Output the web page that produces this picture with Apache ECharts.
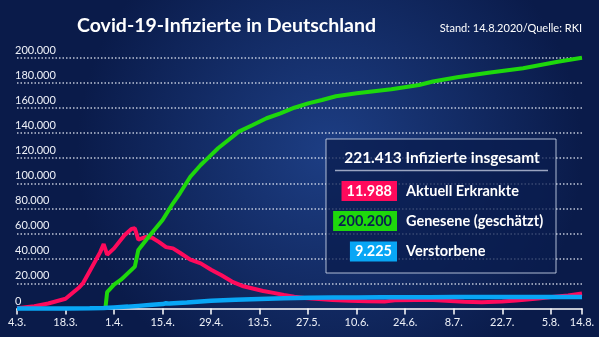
<!DOCTYPE html>
<html><head><meta charset="utf-8">
<script src="https://cdn.jsdelivr.net/npm/echarts@6/dist/echarts.min.js"></script>
<style>html,body{margin:0;padding:0;background:#0b1e50}#c{width:599px;height:337px}</style>
</head><body><div id="c"></div>
<script>
// x positions are day offsets from 4.3.2020
const xTickDays = [0,14,28,42,56,70,84,98,112,126,140,154,163];
const xTickLabels = ['4.3.','18.3.','1.4.','15.4.','29.4.','13.5.','27.5.','10.6.','24.6.','8.7.','22.7.','5.8.','14.8.'];
const yTicks = [0,20000,40000,60000,80000,100000,120000,140000,160000,180000,200000];

const activeCases = [[0,200],[5,1800],[9,4000],[14,7800],[18,17000],[19,20000],[21,30000],[24,45000],[25,51500],[26,43000],[28,48000],[31,58500],[33,63500],[34,64000],[35,55000],[37,57000],[39,56500],[41,53000],[43,49000],[45,48000],[47,44500],[50,39000],[53,36000],[56,31000],[59,26500],[62,21500],[65,18000],[68,16000],[71,14000],[74,12500],[77,10800],[80,9400],[83,8300],[87,7500],[91,6800],[96,6200],[101,5800],[106,5500],[109,6600],[115,6800],[120,6700],[125,6000],[129,5400],[134,5000],[140,5600],[144,6300],[148,7300],[151,8200],[155,9300],[159,10300],[163,11988]];
const recovered = [[25.5,0],[26,13000],[28,19000],[30,23000],[34,33400],[35,46700],[38,57300],[42,70700],[45,84000],[47,92000],[50,105200],[53,114600],[55,119900],[58,127900],[61,134500],[64,141200],[68,146500],[72,151900],[76,155800],[80,160300],[84,163800],[88,166500],[92,169500],[98,171800],[108,175000],[116,178400],[120,181200],[127,184600],[136,188300],[146,191800],[156,197000],[163,200200]];
const deaths = [[0,0],[7,10],[14,30],[21,150],[25,400],[28,900],[32,1500],[35,2100],[39,2900],[42,3500],[43,4200],[44,3900],[49,4800],[56,6100],[63,7000],[70,7600],[77,8100],[84,8500],[91,8700],[98,8800],[105,8900],[112,9000],[119,9050],[126,9100],[133,9140],[140,9160],[147,9180],[154,9200],[163,9225]];

const titleText = 'Covid-19-Infizierte in Deutschland';
const sourceText = 'Stand: 14.8.2020/Quelle: RKI';
const legendTotal = '221.413 Infizierte insgesamt';
const legendValues = ['11.988','200.200','9.225'];
const legendLabels = ['Aktuell Erkrankte','Genesene (geschätzt)','Verstorbene'];

const RED = '#ff0a5c', GREEN = '#1ed80c', BLUE = '#08a6f5';
const FONT = 'Lato, "Open Sans", sans-serif';

const chart = echarts.init(document.getElementById('c'), null, {renderer:'canvas'});
const fmtDe = v => v === 0 ? '0' : (v/1000) + '.000';

const rowY = [191, 221, 251.5];
const boxColors = [RED, GREEN, BLUE];
const boxText = ['#ffffff', '#0a1e50', '#ffffff'];
const legendGraphics = [
  {type:'rect', shape:{x:326, y:139, width:230, height:134}, style:{fill:'rgba(10,28,78,0.75)', stroke:'rgba(205,215,235,0.85)', lineWidth:1}, z:10},
  {type:'text', style:{text:legendTotal, x:442, y:157.5, align:'center', verticalAlign:'middle', fill:'#fff', font:'bold 15.5px '+FONT}, z:11},
  {type:'line', shape:{x1:335, y1:170.5, x2:548, y2:170.5}, style:{stroke:'rgba(170,180,205,0.9)', lineWidth:1.5}, z:11}
];
legendValues.forEach((v,i)=>{
  legendGraphics.push({type:'text', style:{text:v, x:397, y:rowY[i], align:'right', verticalAlign:'middle', fill:boxText[i], font:'bold 14.5px '+FONT, backgroundColor:boxColors[i], padding:[3,5,2,5]}, z:11});
  legendGraphics.push({type:'text', style:{text:legendLabels[i], x:406, y:rowY[i], align:'left', verticalAlign:'middle', fill:'#fff', font:'bold 14.5px '+FONT}, z:11});
});

chart.setOption({
  backgroundColor: new echarts.graphic.RadialGradient(0.55, 0.45, 0.75, [
    {offset:0, color:'#1d3e84'}, {offset:1, color:'#0a1b4a'}
  ]),
  animation:false,
  grid:{left:17, right:17, top:58, bottom:28.5, outerBoundsMode:'none', containLabel:false},
  xAxis:{
    type:'value', min:0, max:163,
    axisLine:{show:true, lineStyle:{color:'#ffffff', width:1.5}},
    axisTick:{show:true, customValues:xTickDays, length:6, lineStyle:{color:'#ffffff', width:1.5}},
    axisLabel:{customValues:xTickDays, margin:8, color:'#eef1f8', fontSize:11, fontFamily:FONT,
      formatter: v => { const i = xTickDays.indexOf(v); return i >= 0 ? xTickLabels[i] : ''; }},
    splitLine:{show:false}
  },
  yAxis:{
    type:'value', min:0, max:200000, interval:20000,
    axisLine:{show:false}, axisTick:{show:false},
    axisLabel:{inside:true, margin:-2, color:'#eef1f8', fontSize:11, fontFamily:FONT, verticalAlign:'bottom', padding:[0,0,2,0],
      formatter: v => yTicks.indexOf(v) >= 0 ? fmtDe(v) : ''},
    splitLine:{show:true, showMinLine:false, lineStyle:{color:'rgba(235,240,250,0.8)', width:1.5, type:[1.5,2]}}
  },
  series:[
    {type:'line', data:activeCases, showSymbol:false, symbol:'none', clip:false, lineStyle:{color:RED, width:4}, z:3},
    {type:'line', data:recovered, showSymbol:false, symbol:'none', clip:false, lineStyle:{color:GREEN, width:4}, z:4},
    {type:'line', data:deaths, showSymbol:false, symbol:'none', clip:false, lineStyle:{color:BLUE, width:4.5}, z:5}
  ],
  graphic:[
    {type:'text', style:{text:titleText, x:77, y:25.5, verticalAlign:'middle', fill:'#fff', font:'bold 19.5px '+FONT}, z:11},
    {type:'text', style:{text:sourceText, x:582, y:28.5, align:'right', verticalAlign:'middle', fill:'#fff', font:'11px '+FONT}, z:11}
  ].concat(legendGraphics)
});
</script></body></html>
